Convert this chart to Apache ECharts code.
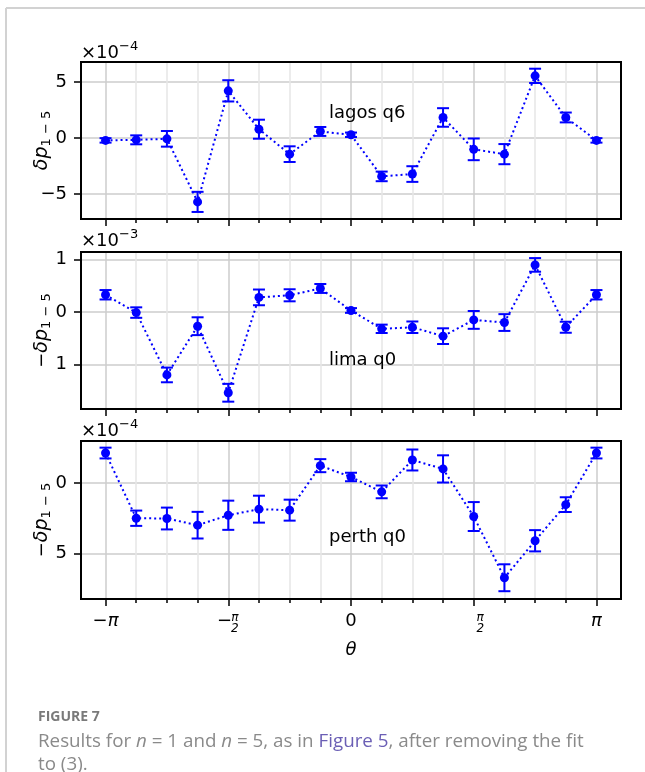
<!DOCTYPE html>
<html>
<head>
<meta charset="utf-8">
<script src="https://cdn.jsdelivr.net/npm/echarts@6/dist/echarts.min.js"></script>
<style>
html, body { margin: 0; padding: 0; background: #fff; }
#main { width: 645px; height: 772px; }
</style>
</head>
<body>
<div id="main"></div>
<script>
// theta in steps of pi/8, from -pi to pi
var thetaSteps = [-8, -7, -6, -5, -4, -3, -2, -1, 0, 1, 2, 3, 4, 5, 6, 7, 8];

// lagos q6, units of 1e-4
var lagosVals = [-0.2, -0.15, -0.06, -5.7, 4.23, 0.8, -1.43, 0.6, 0.3, -3.42, -3.21, 1.85, -1.0, -1.43, 5.57, 1.85, -0.2];
var lagosErr  = [0.2, 0.4, 0.7, 0.9, 0.95, 0.85, 0.7, 0.4, 0.2, 0.43, 0.7, 0.83, 0.97, 0.9, 0.64, 0.44, 0.2];
// lima q0, units of 1e-3
var limaVals = [0.33, -0.01, -1.2, -0.27, -1.54, 0.28, 0.32, 0.45, 0.03, -0.32, -0.29, -0.46, -0.15, -0.2, 0.9, -0.29, 0.33];
var limaErr  = [0.09, 0.1, 0.14, 0.17, 0.17, 0.15, 0.115, 0.085, 0.045, 0.08, 0.11, 0.15, 0.17, 0.16, 0.13, 0.105, 0.09];
// perth q0, units of 1e-4
var perthVals = [2.11, -2.49, -2.51, -2.98, -2.28, -1.85, -1.92, 1.22, 0.42, -0.63, 1.62, 0.99, -2.37, -6.69, -4.08, -1.53, 2.11];
var perthErr  = [0.38, 0.54, 0.77, 0.94, 1.03, 0.95, 0.74, 0.46, 0.3, 0.45, 0.74, 0.96, 1.02, 0.95, 0.75, 0.52, 0.38];

var panelNames = ['lagos q6', 'lima q0', 'perth q0'];
var panelScales = ['−4', '−3', '−4'];
var yTicks = [[-5, 0, 5], [-1, 0, 1], [-5, 0]];
var yRanges = [[-7.23, 6.81], [-1.85, 1.146], [-8.19, 2.96]];

var PI = Math.PI;
var XMAX = 1.1 * PI;
var theta = thetaSteps.map(function (k) { return k * PI / 8; });
var majorTicks = [-PI, -PI / 2, 0, PI / 2, PI];
var minorTicks = theta.filter(function (t, i) { return thetaSteps[i] % 4 !== 0; });

var BLUE = '#0000ff';
var FONT = 'DejaVu Sans';

var grids = [
  { left: 81, top: 62, width: 540, height: 157 },
  { left: 81, top: 252, width: 540, height: 157 },
  { left: 81, top: 441, width: 540, height: 158 }
];

function piLabel(v) {
  var k = Math.round(v / (PI / 2));
  if (k === 0) return '0';
  if (k === 2) return '{i|π}';
  if (k === -2) return '−{i|π}';
  if (k === 1) return '{sp|}{f|π}\n{sp|}{f|2}';
  return '{m|−}{f|π}\n{sp|}{f|2}';
}

function yLabel(v, neg) {
  if (v < 0) return neg ? String(-v) : '−' + (-v);
  return String(v);
}

function errRender(params, api) {
  var x = api.value(0);
  var lo = api.coord([x, api.value(1)]);
  var hi = api.coord([x, api.value(2)]);
  var w = 6;
  var st = { stroke: BLUE, lineWidth: 2 };
  return {
    type: 'group',
    children: [
      { type: 'line', shape: { x1: lo[0], y1: lo[1], x2: hi[0], y2: hi[1] }, style: st },
      { type: 'line', shape: { x1: lo[0] - w, y1: lo[1], x2: lo[0] + w, y2: lo[1] }, style: st },
      { type: 'line', shape: { x1: hi[0] - w, y1: hi[1], x2: hi[0] + w, y2: hi[1] }, style: st }
    ]
  };
}

var allVals = [lagosVals, limaVals, perthVals];
var allErr = [lagosErr, limaErr, perthErr];

var xAxes = [], yAxes = [], series = [], titles = [];

for (var g = 0; g < 3; g++) {
  // minor grid lines and ticks
  xAxes.push({
    gridIndex: g, type: 'value', min: -XMAX, max: XMAX, position: 'bottom',
    axisLine: { show: false, onZero: false },
    axisTick: { show: true, customValues: minorTicks, length: 4, lineStyle: { color: '#000', width: 1.5 } },
    axisLabel: { show: false },
    splitLine: { show: true, customValues: minorTicks, lineStyle: { color: '#e6e6e6', width: 1.5 } }
  });
  // major grid lines, ticks and labels
  xAxes.push({
    gridIndex: g, type: 'value', min: -XMAX, max: XMAX, position: 'bottom',
    axisLine: { show: false, onZero: false },
    axisTick: { show: true, customValues: majorTicks, length: 7, lineStyle: { color: '#000', width: 1.5 } },
    axisLabel: {
      show: g === 2, customValues: majorTicks, formatter: piLabel, margin: 13,
      fontFamily: FONT, fontSize: 18, color: '#000',
      rich: {
        i: { fontFamily: FONT, fontSize: 18, fontStyle: 'italic', color: '#000' },
        f: { fontFamily: FONT, fontSize: 12, fontStyle: 'italic', color: '#000', lineHeight: 11 },
        sp: { width: 13, lineHeight: 11 },
        m: { fontFamily: FONT, fontSize: 18, color: '#000', width: 13, lineHeight: 1, verticalAlign: 'top', padding: [0, 0, 0, 0] }
      }
    },
    splitLine: { show: true, customValues: majorTicks, lineStyle: { color: '#cccccc', width: 1.5 } },
    name: g === 2 ? 'θ' : '', nameLocation: 'middle', nameGap: 42,
    nameTextStyle: { fontFamily: FONT, fontSize: 18, fontStyle: 'italic', color: '#000' }
  });

  var neg = g > 0;
  yAxes.push({
    gridIndex: g, type: 'value', min: yRanges[g][0], max: yRanges[g][1],
    axisLine: { show: false, onZero: false },
    axisTick: { show: true, customValues: yTicks[g], length: 7, lineStyle: { color: '#000', width: 1.5 } },
    axisLabel: {
      customValues: yTicks[g], margin: 14,
      fontFamily: FONT, fontSize: 18, color: '#000',
      formatter: (function (n) { return function (v) { return yLabel(v, n); }; })(neg)
    },
    splitLine: { show: true, customValues: yTicks[g], lineStyle: { color: '#cccccc', width: 1.5 } },
    name: (neg ? '{n|−}' : '') + '{i|δp}{s|1 − 5}',
    nameLocation: 'middle', nameRotate: 90, nameGap: 28, nameMoveOverlap: false,
    nameTextStyle: {
      rich: {
        n: { fontFamily: FONT, fontSize: 18, color: '#000', lineHeight: 22 },
        i: { fontFamily: FONT, fontSize: 19, fontStyle: 'italic', color: '#000', lineHeight: 22 },
        s: { fontFamily: FONT, fontSize: 13, color: '#000', lineHeight: 1, verticalAlign: 'top', padding: [9, 0, 0, 0] }
      }
    }
  });

  var vals = allVals[g], errs = allErr[g];
  series.push({
    type: 'custom', xAxisIndex: 2 * g, yAxisIndex: g,
    renderItem: errRender, z: 3,
    data: theta.map(function (t, i) { return [t, vals[i] - errs[i], vals[i] + errs[i]]; })
  });
  series.push({
    type: 'line', xAxisIndex: 2 * g, yAxisIndex: g, z: 4,
    data: theta.map(function (t, i) { return [t, vals[i]]; }),
    symbol: 'circle', symbolSize: 9, showSymbol: true,
    itemStyle: { color: BLUE },
    lineStyle: { color: BLUE, width: 2, type: [2, 3] },
    animation: false
  });

  titles.push({
    text: '{a|×10}{b|' + panelScales[g] + '}',
    left: 81, top: [42, 230, 420][g], padding: 0,
    textStyle: {
      fontWeight: 'normal',
      rich: {
        a: { fontFamily: FONT, fontSize: 18, fontWeight: 'normal', color: '#000', lineHeight: 22 },
        b: { fontFamily: FONT, fontSize: 13, fontWeight: 'normal', color: '#000', lineHeight: 1, verticalAlign: 'top', padding: [-2, 0, 0, 0] }
      }
    }
  });
  titles.push({
    text: panelNames[g], left: 329, top: [104, 351, 528][g], padding: 0,
    textStyle: { fontFamily: FONT, fontSize: 18, fontWeight: 'normal', color: '#000' }
  });
}

titles.push({
  text: 'FIGURE 7', left: 38, top: 710, padding: 0,
  textStyle: { fontFamily: 'Open Sans', fontSize: 14, fontWeight: 'bold', color: '#7a7a7a' }
});
titles.push({
  text: 'Results for {i|n} = 1 and {i|n} = 5, as in {l|Figure 5}, after removing the fit\nto (3).',
  left: 38, top: 730, padding: 0,
  textStyle: {
    fontFamily: 'Open Sans', fontSize: 18.8, fontWeight: 'normal', color: '#8a8a8a', lineHeight: 23,
    rich: {
      i: { fontFamily: 'Open Sans', fontSize: 18.8, fontStyle: 'italic', fontWeight: 'normal', color: '#8a8a8a', lineHeight: 23 },
      l: { fontFamily: 'Open Sans', fontSize: 18.8, fontWeight: 'normal', color: '#6b5fb5', lineHeight: 23 }
    }
  }
});

var chart = echarts.init(document.getElementById('main'), null, { renderer: 'canvas' });
chart.setOption({
  backgroundColor: '#fff',
  animation: false,
  title: titles,
  grid: grids.map(function (gr) {
    return { left: gr.left, top: gr.top, width: gr.width, height: gr.height, show: true, borderColor: '#000', borderWidth: 2, backgroundColor: 'transparent', z: 5 };
  }),
  xAxis: xAxes,
  yAxis: yAxes,
  series: series,
  graphic: [
    { type: 'line', shape: { x1: 6, y1: 8, x2: 645, y2: 8 }, style: { stroke: '#d2d2d2', lineWidth: 2 } },
    { type: 'line', shape: { x1: 6, y1: 8, x2: 6, y2: 772 }, style: { stroke: '#d2d2d2', lineWidth: 2 } }
  ]
});
</script>
</body>
</html>
